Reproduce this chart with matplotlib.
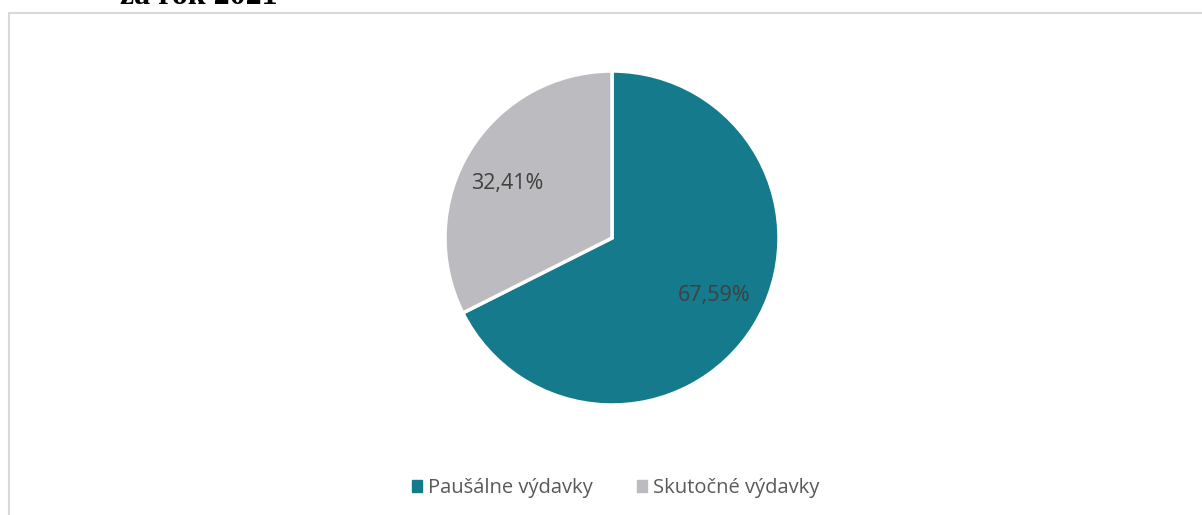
import matplotlib
matplotlib.use("Agg")
import matplotlib.pyplot as plt
from matplotlib.patches import Rectangle

categories = ["Paušálne výdavky", "Skutočné výdavky"]
values = [67.59, 32.41]
labels = ["67,59%", "32,41%"]
colors = ["#157B8C", "#BCBBBF"]

W, H = 1202, 515
fig = plt.figure(figsize=(W / 100, H / 100), dpi=100)
fig.patch.set_facecolor("white")

# frame
fig.add_artist(Rectangle((8.5 / W, -0.05), (W + 20) / W, (H - 12.5) / H + 0.05,
                         transform=fig.transFigure, fill=False,
                         edgecolor="#D9D9D9", linewidth=1.5))

# cut-off title
fig.text(199 / W, 1 - 4.5 / H, "za rok 2021", family="Liberation Serif",
         weight="bold", fontsize=23, ha="center", va="baseline", color="black")

cx, cy, r = 612, 238, 167
ax = fig.add_axes([(cx - r) / W, 1 - (cy + r) / H, 2 * r / W, 2 * r / H])
wedges, _ = ax.pie(values, colors=colors, startangle=90, counterclock=False,
                   wedgeprops=dict(edgecolor="white", linewidth=2.5))
ax.set_aspect("equal")
ax.set_xlim(-1, 1)
ax.set_ylim(-1, 1)
ax.axis("off")

label_pos = [(714, 296), (507, 183)]
for (px, py), t in zip(label_pos, labels):
    fig.text(px / W, 1 - py / H, t, ha="center", va="center",
             fontsize=15.5, family="Open Sans", color="#404040")

handles = [Rectangle((0, 0), 1, 1, color=c) for c in colors]
leg = fig.legend(handles, categories, loc="center", bbox_to_anchor=(616 / W, 1 - 488 / H),
                 ncol=2, frameon=False, handlelength=0.5, handleheight=0.5,
                 handletextpad=0.3, columnspacing=2.2,
                 prop=dict(family="Open Sans", size=14.5))
for t in leg.get_texts():
    t.set_color("#595959")

fig.savefig("out.png", dpi=100, facecolor="white")
